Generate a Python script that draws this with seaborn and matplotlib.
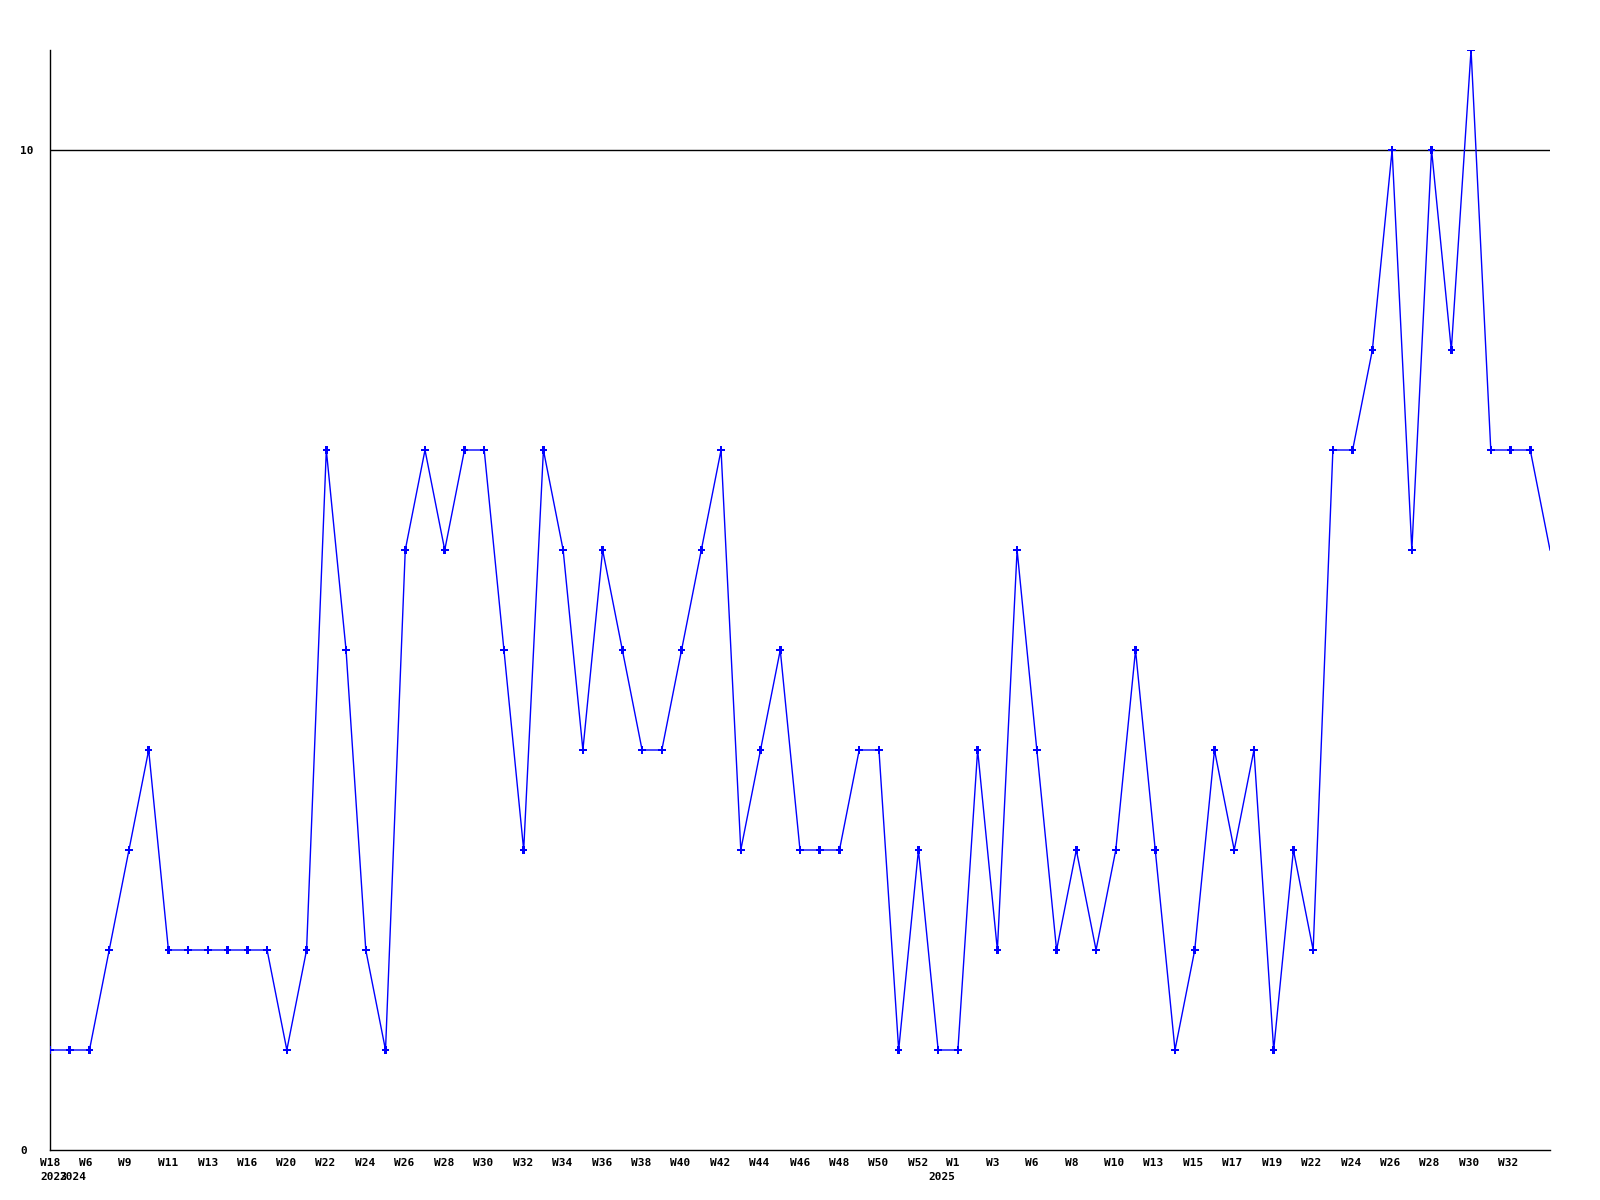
import matplotlib as mpl
import matplotlib.pyplot as plt
import matplotlib.transforms as mtransforms
import numpy as np
import pandas as pd
import seaborn as sns


mpl.rcParams.update(
    {
        "figure.dpi": 100,
        "font.family": "DejaVu Sans Mono",
        "font.weight": "bold",
        "font.size": 8,
    }
)

# weekly values, one per week
values = [
    1, 1, 1, 2, 3, 4, 2, 2, 2, 2, 2, 2, 1, 2, 7, 5, 2, 1, 6, 7,
    6, 7, 7, 5, 3, 7, 6, 4, 6, 5, 4, 4, 5, 6, 7, 3, 4, 5, 3, 3,
    3, 4, 4, 1, 3, 1, 1, 4, 2, 6, 4, 2, 3, 2, 3, 5, 3, 1, 2, 4,
    3, 4, 1, 3, 2, 7, 7, 8, 10, 6, 10, 8, 11, 7, 7, 7, 6,
]

week_labels = [
    "W18", "W6", "W9", "W11", "W13", "W16", "W20", "W22", "W24", "W26",
    "W28", "W30", "W32", "W34", "W36", "W38", "W40", "W42", "W44", "W46",
    "W48", "W50", "W52", "W1", "W3", "W6", "W8", "W10", "W13", "W15",
    "W17", "W19", "W22", "W24", "W26", "W28", "W30", "W32",
]
week_ticks = [
    0.0, 1.8, 3.8, 6.0, 8.0, 10.0, 11.95, 13.95, 15.95, 17.95,
    19.95, 21.95, 23.95, 25.95, 27.95, 29.95, 31.95, 33.95, 35.95, 38.0,
    39.97, 41.95, 43.97, 45.75, 47.78, 49.75, 51.78, 53.9, 55.9, 57.9,
    59.9, 61.9, 63.9, 65.9, 67.9, 69.9, 71.9, 73.9,
]
year_labels = ["2023", "2024", "2025"]
year_ticks = [0.18, 1.14, 45.17]

y_ticks = [0, 10]

df = pd.DataFrame({"week": np.arange(len(values)), "value": values})

fig = plt.figure(figsize=(16, 12))
ax = fig.add_axes([50 / 1600, 50 / 1200, 1500 / 1600, 1100 / 1200])

ax.axhline(10, color="black", linewidth=1, zorder=1)
sns.lineplot(df, x="week", y="value", color="#0000ff", linewidth=1, ax=ax, zorder=2)
# no marker on the last (still running) week
sns.scatterplot(
    df.iloc[:-1],
    x="week",
    y="value",
    marker="P",
    s=30,
    color="#0000ff",
    edgecolor="none",
    ax=ax,
    zorder=3,
)

ax.set_xlim(0, len(values) - 1)
ax.set_ylim(0, 11)
ax.set_xlabel("")
ax.set_ylabel("")

ax.spines["top"].set_visible(False)
ax.spines["right"].set_visible(False)
for side in ["left", "bottom"]:
    ax.spines[side].set_linewidth(1)
    ax.spines[side].set_color("black")

ax.set_yticks(y_ticks)
ax.set_yticklabels([str(v) for v in y_ticks], ha="left")
ax.tick_params(axis="y", length=0, pad=21.6)

ax.set_xticks(week_ticks)
ax.set_xticklabels(week_labels)
ax.tick_params(axis="x", length=0, pad=6)

trans = mtransforms.blended_transform_factory(ax.transData, ax.transAxes)
for pos, label in zip(year_ticks, year_labels):
    ax.text(pos, -27.5 / 1100, label, transform=trans, ha="center", va="center",
            fontsize=8, fontweight="bold")

fig.savefig("out.png", dpi=100)
